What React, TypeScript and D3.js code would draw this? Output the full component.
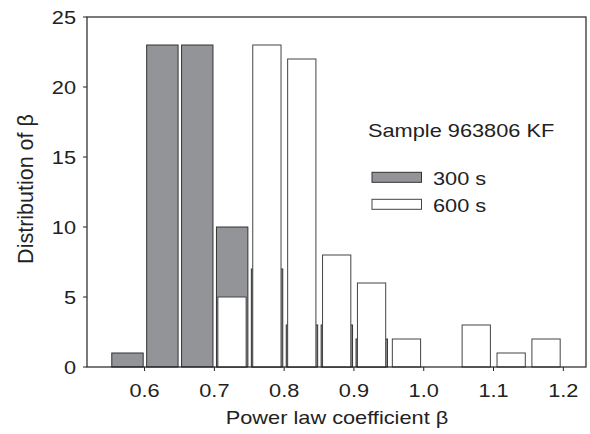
import React from 'react';
import * as d3 from 'd3';

// bin start values (beta), bin width 0.05
const bins = [0.55, 0.6, 0.65, 0.7, 0.75, 0.8, 0.85, 0.9, 0.95, 1.0, 1.05, 1.1, 1.15];
const counts300 = [1, 23, 23, 10, 7, 3, 3, 2, 0, 0, 0, 0, 0];
const counts600 = [0, 0, 0, 5, 23, 22, 8, 6, 2, 0, 3, 1, 2];
const xTicks = [0.6, 0.7, 0.8, 0.9, 1.0, 1.1, 1.2];
const yTicks = [0, 5, 10, 15, 20, 25];

const width = 590;
const height = 434;
const left = 87;
const right = 586;
const top = 17;
const bottom = 367;
const font = 'Liberation Sans, Arial, sans-serif';
const fs = 18.6;
const sx = 1.17; // text in the original is a bit wide

function T({ x, y, anchor = 'start', children }: any) {
  return (
    <text
      transform={`translate(${x},${y}) scale(${sx},1)`}
      textAnchor={anchor}
      fontSize={fs}
      fill="#222"
    >
      {children}
    </text>
  );
}

export default function App() {
  const x = d3.scaleLinear().domain([0.5175, 1.2325]).range([left, right]);
  const y = d3.scaleLinear().domain([0, 25]).range([bottom, top]);

  const gray = bins.map((b, i) => ({ b, v: counts300[i] })).filter((d) => d.v > 0);
  const white = bins.map((b, i) => ({ b, v: counts600[i] })).filter((d) => d.v > 0);

  return (
    <svg
      width={width}
      height={height}
      style={{ position: 'absolute', left: 0, top: 0, background: '#fff' }}
      fontFamily={font}
    >
      {/* 300 s bars */}
      {gray.map((d) => (
        <rect
          key={'g' + d.b}
          x={x(d.b + 0.003)}
          y={y(d.v)}
          width={x(d.b + 0.048) - x(d.b + 0.003)}
          height={y(0) - y(d.v)}
          fill="#929497"
          stroke="#333"
          strokeWidth={1}
        />
      ))}
      {/* 600 s bars */}
      {white.map((d) => (
        <rect
          key={'w' + d.b}
          x={x(d.b + 0.005)}
          y={y(d.v)}
          width={x(d.b + 0.0455) - x(d.b + 0.005)}
          height={y(0) - y(d.v)}
          fill="#fff"
          stroke="#444"
          strokeWidth={1}
        />
      ))}

      {/* frame */}
      <rect x={left} y={top} width={right - left} height={bottom - top} fill="none" stroke="#222" strokeWidth={1.2} />

      {/* y axis */}
      {yTicks.map((t) => (
        <g key={'y' + t}>
          <line x1={left - 4} x2={left} y1={y(t)} y2={y(t)} stroke="#222" />
          <T x={left - 11} y={y(t) + 6.7} anchor="end">
            {t}
          </T>
        </g>
      ))}
      {/* x axis */}
      {xTicks.map((t) => (
        <g key={'x' + t}>
          <line x1={x(t)} x2={x(t)} y1={bottom} y2={bottom + 4} stroke="#222" />
          <T x={x(t)} y={bottom + 29.5} anchor="middle">
            {t.toFixed(1)}
          </T>
        </g>
      ))}

      <T x={337} y={423.5} anchor="middle">
        Power law coefficient β
      </T>
      <text
        transform={`translate(33,189) rotate(-90)`}
        textAnchor="middle"
        fontSize={21.5}
        fill="#222"
      >
        Distribution of  β
      </text>

      {/* legend */}
      <T x={368} y={136.7}>
        Sample 963806 KF
      </T>
      <rect x={372} y={172.3} width={49.5} height={10} fill="#929497" stroke="#333" />
      <T x={433} y={185}>
        300 s
      </T>
      <rect x={372} y={199.3} width={49.5} height={10} fill="#fff" stroke="#444" />
      <T x={433} y={211.7}>
        600 s
      </T>
    </svg>
  );
}
